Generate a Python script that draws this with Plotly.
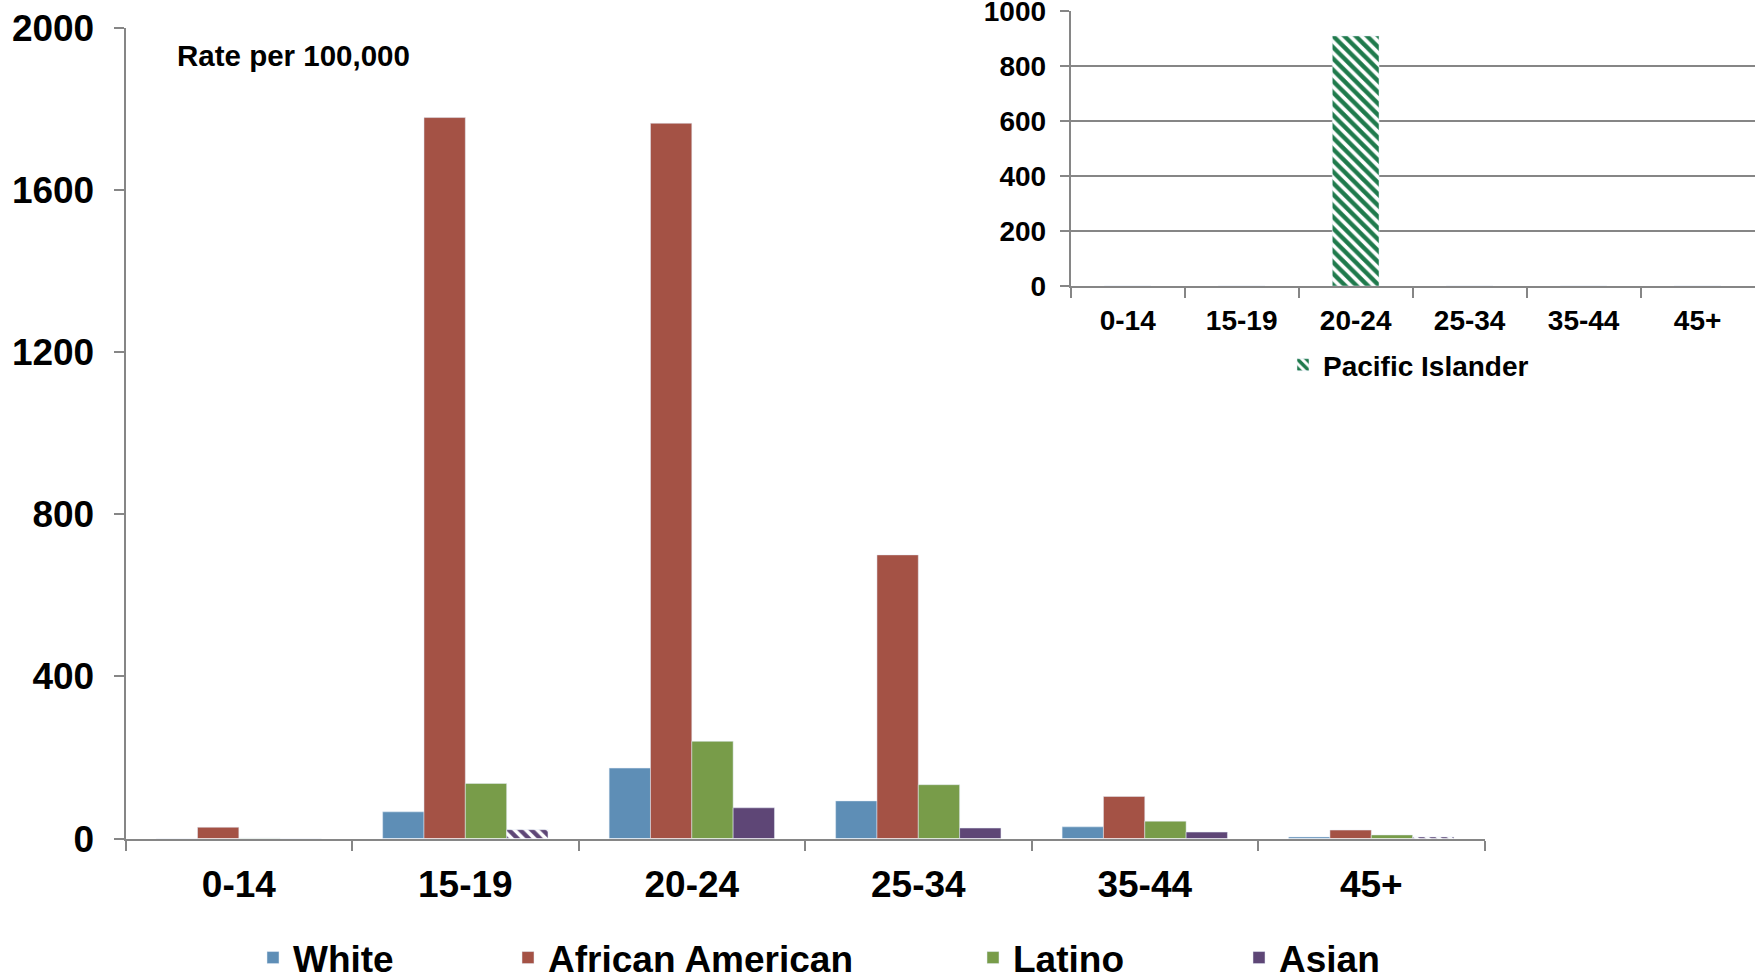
import plotly.graph_objects as go

# ---- data ----
age_groups = ["0-14", "15-19", "20-24", "25-34", "35-44", "45+"]
white = [0, 66, 174, 93, 29, 4]
african_american = [28, 1779, 1765, 700, 104, 21]
latino = [1, 136, 240, 133, 43, 9]
asian = [0, 22, 76, 26, 16, 4]
asian_unstable = [False, True, False, False, False, True]
pacific_islander = [0, 0, 910, 0, 0, 0]

main_ticks = [0, 400, 800, 1200, 1600, 2000]
inset_ticks = [0, 200, 400, 600, 800, 1000]

# ---- styles ----
W, H = 1758, 980
FONT = "Liberation Sans"
AXIS_GRAY = "#868686"
C_WHITE = "#5E8EB6"
C_AA = "#A45245"
C_LAT = "#789C49"
C_ASIAN = "#5E4676"
C_PI = "#1F7A4C"

fig = go.Figure()

fig.add_trace(go.Bar(x=age_groups, y=white, name="White", marker_color=C_WHITE,
                     xaxis="x", yaxis="y", legend="legend"))
fig.add_trace(go.Bar(x=age_groups, y=african_american, name="African American",
                     marker_color=C_AA, xaxis="x", yaxis="y", legend="legend2"))
fig.add_trace(go.Bar(x=age_groups, y=latino, name="Latino", marker_color=C_LAT,
                     xaxis="x", yaxis="y", legend="legend3"))
fig.add_trace(go.Bar(
    x=age_groups, y=asian, name="Asian", xaxis="x", yaxis="y", legend="legend4",
    marker=dict(color=C_ASIAN,
                pattern=dict(shape=["\\" if u else "" for u in asian_unstable],
                             fgcolor=C_ASIAN, bgcolor="white", fgopacity=1,
                             size=8, solidity=0.55)),
))
fig.add_trace(go.Bar(
    x=age_groups, y=pacific_islander, name="Pacific Islander", xaxis="x2", yaxis="y2",
    legend="legend5", width=0.41,
    marker=dict(color=C_PI, pattern=dict(shape="\\", fgcolor=C_PI, bgcolor="white",
                                         fgopacity=1, size=8, solidity=0.55)),
))

main_x_dom = [125.6 / W, 1484.5 / W]
main_y_dom = [1 - 838.6 / H, 1 - 28 / H]
inset_x_dom = [1070.7 / W, 1754.6 / W]
inset_y_dom = [1 - 286 / H, 1 - 11.2 / H]

axis_font_main = dict(family=FONT, size=37, color="black", weight="bold")
axis_font_inset = dict(family=FONT, size=28, color="black", weight="bold")

legend_common = dict(orientation="h", yanchor="middle", xanchor="left",
                     xref="container", yref="container",
                     bgcolor="rgba(0,0,0,0)", borderwidth=0, visible=True,
                     font=dict(family=FONT, size=37, color="black", weight="bold"))

fig.update_layout(
    width=W, height=H,
    margin=dict(l=0, r=0, t=0, b=0, autoexpand=False),
    showlegend=True,
    paper_bgcolor="white", plot_bgcolor="rgba(0,0,0,0)",
    barmode="group", bargap=0.27, bargroupgap=0,
    font=dict(family=FONT, color="black"),
    xaxis=dict(domain=main_x_dom, type="category", showline=True, linecolor=AXIS_GRAY,
               linewidth=2, ticks="outside", tickson="boundaries", ticklen=10,
               tickcolor=AXIS_GRAY, tickwidth=2, tickfont=axis_font_main,
               ticklabelstandoff=12, showgrid=False, zeroline=False, automargin=False),
    yaxis=dict(domain=main_y_dom, range=[0, 2000], tickvals=main_ticks, showline=True,
               linecolor=AXIS_GRAY, linewidth=2, ticks="outside", ticklen=10,
               tickcolor=AXIS_GRAY, tickwidth=2, tickfont=axis_font_main,
               ticklabelstandoff=12, ticklabeloverflow="allow",
               showgrid=False, zeroline=False, automargin=False),
    xaxis2=dict(domain=inset_x_dom, anchor="y2", type="category", showline=True,
                linecolor=AXIS_GRAY, linewidth=2, ticks="outside", tickson="boundaries",
                ticklen=10, tickcolor=AXIS_GRAY, tickwidth=2, tickfont=axis_font_inset,
                ticklabelstandoff=8, showgrid=False, zeroline=False, automargin=False),
    yaxis2=dict(domain=inset_y_dom, anchor="x2", range=[0, 1000], tickvals=inset_ticks,
                showline=True, linecolor=AXIS_GRAY, linewidth=2, ticks="outside",
                ticklen=9, tickcolor=AXIS_GRAY, tickwidth=2, tickfont=axis_font_inset,
                ticklabelstandoff=8, ticklabeloverflow="allow",
                showgrid=True, gridcolor=AXIS_GRAY, gridwidth=2,
                zeroline=False, automargin=False),
    legend=dict(x=253 / W, y=1 - 958 / H, **legend_common),
    legend2=dict(x=508 / W, y=1 - 958 / H, **legend_common),
    legend3=dict(x=973 / W, y=1 - 958 / H, **legend_common),
    legend4=dict(x=1239 / W, y=1 - 958 / H, **legend_common),
    legend5=dict(x=1283 / W, y=1 - 365 / H, orientation="h", yanchor="middle",
                 xanchor="left", xref="container", yref="container",
                 bgcolor="rgba(0,0,0,0)", borderwidth=0,
                 font=dict(family=FONT, size=28, color="black", weight="bold")),
    annotations=[dict(text="Rate per 100,000", xref="paper", yref="paper",
                      x=175 / W, y=1 - 55 / H, xanchor="left", yanchor="middle",
                      showarrow=False,
                      font=dict(family=FONT, size=29.5, color="black", weight="bold"))],
)

fig.write_html(
    "out.html",
    config={"displayModeBar": False},
    post_script="document.body.style.margin='0';document.body.style.overflow='hidden';",
)
